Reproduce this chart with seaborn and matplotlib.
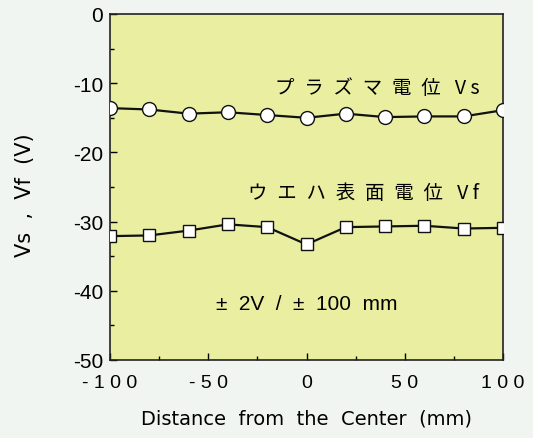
import matplotlib
matplotlib.use("Agg")
import matplotlib.pyplot as plt
from matplotlib.ticker import MultipleLocator
import pandas as pd
import seaborn as sns

# distance from the wafer center (mm)
distance = [-100, -80, -60, -40, -20, 0, 20, 40, 60, 80, 100]
# plasma potential Vs (V)
vs = [-13.6, -13.8, -14.4, -14.2, -14.6, -15.0, -14.4, -14.9, -14.8, -14.8, -13.9]
# wafer surface potential Vf (V)
vf = [-32.1, -32.0, -31.3, -30.4, -30.8, -33.3, -30.8, -30.7, -30.6, -31.0, -30.9]

xticks = [-100, -50, 0, 50, 100]
xtick_labels = ["- 1 0 0", "- 5 0", "0", "5 0", "1 0 0"]
yticks = [0, -10, -20, -30, -40, -50]

df = pd.DataFrame({"distance": distance, "Vs": vs, "Vf": vf})

sns.set_style("ticks")
plt.rcParams["font.family"] = ["Liberation Sans", "Noto Sans CJK JP"]
plt.rcParams["axes.unicode_minus"] = False
plt.rcParams["text.color"] = "black"
plt.rcParams["axes.labelcolor"] = "black"
plt.rcParams["xtick.color"] = "black"
plt.rcParams["ytick.color"] = "black"

fig = plt.figure(figsize=(5.33, 4.39), dpi=100, facecolor="#f1f5f1")
ax = fig.add_axes([110 / 533, 1 - 361 / 439, 393 / 533, 346 / 439])
ax.set_facecolor("#e9eea0")

sns.lineplot(data=df, x="distance", y="Vs", ax=ax, color="#111111", lw=1.6,
             marker="o", markersize=10, markerfacecolor="white",
             markeredgecolor="#111111", markeredgewidth=1.0, zorder=3)
sns.lineplot(data=df, x="distance", y="Vf", ax=ax, color="#111111", lw=1.6,
             marker="s", markersize=9, markerfacecolor="white",
             markeredgecolor="#111111", markeredgewidth=1.0, zorder=3)

ax.set_xlim(-100, 100)
ax.set_ylim(-50, 0)
ax.set_xticks(xticks)
ax.set_xticklabels(xtick_labels)
ax.set_yticks(yticks)
ax.xaxis.set_minor_locator(MultipleLocator(25))
ax.yaxis.set_minor_locator(MultipleLocator(5))
ax.tick_params(which="both", direction="in", top=False, right=False)
ax.tick_params(which="major", length=5, width=1)
ax.tick_params(which="minor", length=3, width=1)
ax.tick_params(axis="y", labelsize=15, pad=5)
ax.tick_params(axis="x", labelsize=14, pad=10)
for s in ax.spines.values():
    s.set_linewidth(1.2)
    s.set_color("#222222")

ax.set_xlabel("Distance  from  the  Center  (mm)", fontsize=14,
              family="DejaVu Sans")
ax.xaxis.set_label_coords(0.5, -0.14)
ax.set_ylabel("Vs  ,  Vf  (V)", fontsize=15, family="DejaVu Sans")
ax.yaxis.set_label_coords(-0.19, 0.48)

jp = ["Noto Sans CJK JP", "DejaVu Sans"]
sp = "\u2002"
ax.text(88, -10.6, sp.join("プラズマ電位") + sp + " V s", fontsize=14,
        family=jp, ha="right", va="center")
ax.text(88, -25.8, sp.join("ウエハ表面電位") + sp + " V f", fontsize=14,
        family=jp, ha="right", va="center")
ax.text(-46, -41.8, "±  2V  /  ±  100  mm", fontsize=15, ha="left",
        va="center")

fig.savefig("out.png", dpi=100, facecolor=fig.get_facecolor())
